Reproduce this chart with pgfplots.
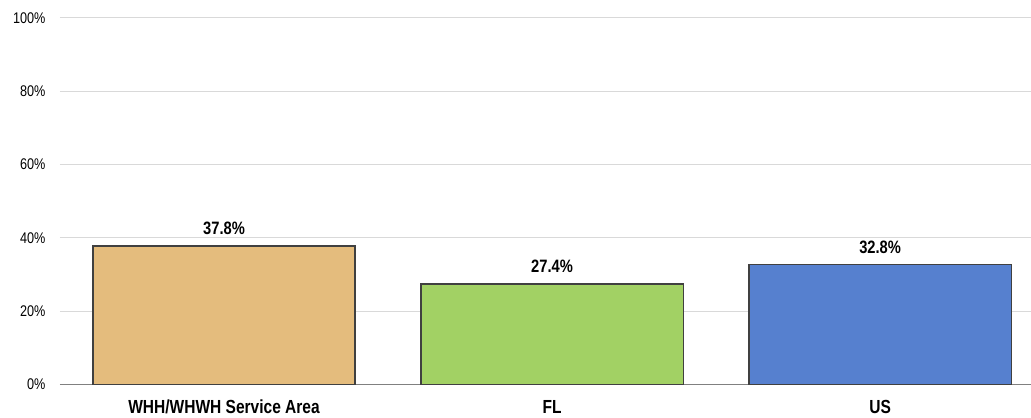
\documentclass[border=0pt]{standalone}
\usepackage{pgfplots}
\pgfplotsset{compat=1.18}
\usepackage{fontspec}
\setmainfont{Liberation Sans}[FakeStretch=0.82]

\definecolor{tanbar}{RGB}{228,188,125}
\definecolor{greenbar}{RGB}{162,209,100}
\definecolor{bluebar}{RGB}{86,128,207}
\definecolor{gridgray}{RGB}{217,217,217}
\definecolor{edgegray}{RGB}{64,64,64}

\begin{document}
\begin{tikzpicture}
\begin{axis}[
    name=ax,
    scale only axis,
    width=971bp, height=366.5bp,
    xmin=-0.5, xmax=2.46,
    ymin=0, ymax=100,
    axis x line=bottom, axis y line=left,
    x axis line style={draw=gray, line width=1.5bp, -},
    y axis line style={draw=none},
    major tick length=0pt,
    ytick={0,20,...,100},
    yticklabel={\pgfmathprintnumber{\tick}\%},
    /pgf/number format/assume math mode=true,
    yticklabel style={font=\fontsize{15.5}{16}\selectfont, xshift=-11bp},
    ymajorgrids,
    grid style={draw=gridgray, line width=1bp},
    xtick={0,1,2},
    xticklabels={WHH/WHWH Service Area, FL, US},
    xticklabel style={font=\bfseries\fontsize{19}{20}\selectfont, yshift=-12bp},
    ybar, bar width=0.8, bar shift=0pt,
    every axis plot/.append style={draw=edgegray, line width=1.5bp},
    nodes near coords={\pgfmathprintnumber[fixed, fixed zerofill, precision=1]{\pgfplotspointmeta}\%},
    nodes near coords style={font=\bfseries\fontsize{18}{19}\selectfont, text=black, yshift=7bp},
]
\addplot[fill=tanbar] coordinates {(0,37.8)};
\addplot[fill=greenbar] coordinates {(1,27.4)};
\addplot[fill=bluebar] coordinates {(2,32.8)};
\end{axis}
\pgfresetboundingbox
\path ([xshift=-60bp,yshift=-33bp]ax.south west) rectangle ([yshift=18bp]ax.north east);
\end{tikzpicture}
\end{document}
